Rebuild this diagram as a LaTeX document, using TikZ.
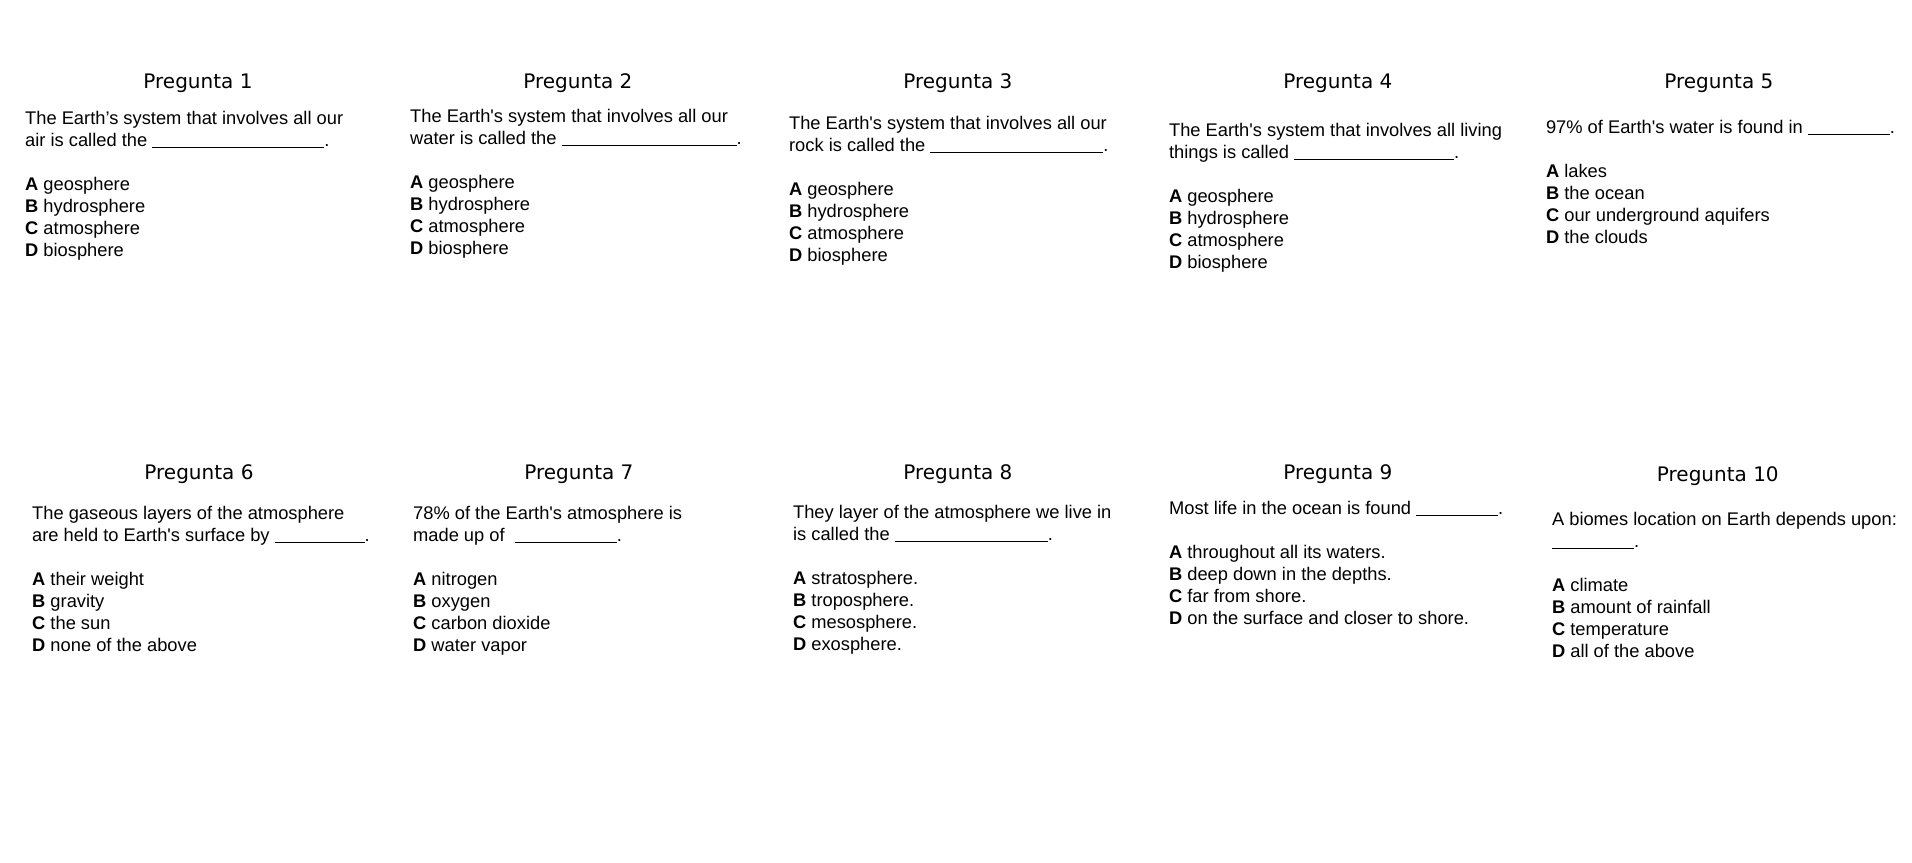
\documentclass[tikz,border=0pt]{standalone}
\usepackage{fontspec}
\setmainfont{Liberation Sans}
\newfontfamily\titlefont{DejaVu Sans}
\usepackage{tikz}
\newcommand{\blank}[1]{\rule[-1.5pt]{#1pt}{1.3pt}}
\newcommand{\apos}{\textquotesingle}
\tikzstyle{qtitle} = [anchor=base, inner sep=0pt, font=\titlefont\fontsize{20}{24}\selectfont]
\tikzstyle{qbox} = [anchor=base west, inner sep=0pt, font=\fontsize{18.3}{22}\selectfont]

\begin{document}
\begin{tikzpicture}[x=1pt, y=-1pt]
\path[fill=white] (0,0) rectangle (1912,863);

% first row
\node [qtitle] (t1) at (198,89) {Pregunta 1};
\node [qtitle] (t2) at (578,89) {Pregunta 2};
\node [qtitle] (t3) at (958,89) {Pregunta 3};
\node [qtitle] (t4) at (1338,89) {Pregunta 4};
\node [qtitle] (t5) at (1719,89) {Pregunta 5};

\node [qbox] (q1) at (25,124.5){%
    \begin{minipage}[t]{360pt}
        The Earth’s system that involves all our\\
        air is called the \blank{172}.\\[22pt]
        \textbf{A} geosphere\\
        \textbf{B} hydrosphere\\
        \textbf{C} atmosphere\\
        \textbf{D} biosphere
    \end{minipage}
};
\node [qbox] (q2) at (410,122.5){%
    \begin{minipage}[t]{360pt}
        The Earth\apos s system that involves all our\\
        water is called the \blank{175}.\\[22pt]
        \textbf{A} geosphere\\
        \textbf{B} hydrosphere\\
        \textbf{C} atmosphere\\
        \textbf{D} biosphere
    \end{minipage}
};
\node [qbox] (q3) at (789,129.5){%
    \begin{minipage}[t]{360pt}
        The Earth\apos s system that involves all our\\
        rock is called the \blank{173}.\\[22pt]
        \textbf{A} geosphere\\
        \textbf{B} hydrosphere\\
        \textbf{C} atmosphere\\
        \textbf{D} biosphere
    \end{minipage}
};
\node [qbox] (q4) at (1169,136.5){%
    \begin{minipage}[t]{360pt}
        The Earth\apos s system that involves all living\\
        things is called \blank{160}.\\[22pt]
        \textbf{A} geosphere\\
        \textbf{B} hydrosphere\\
        \textbf{C} atmosphere\\
        \textbf{D} biosphere
    \end{minipage}
};
\node [qbox] (q5) at (1546,133.5){%
    \begin{minipage}[t]{360pt}
        97\% of Earth\apos s water is found in \blank{82}.\\[22pt]
        \textbf{A} lakes\\
        \textbf{B} the ocean\\
        \textbf{C} our underground aquifers\\
        \textbf{D} the clouds
    \end{minipage}
};

% second row
\node [qtitle] (t6) at (199,480) {Pregunta 6};
\node [qtitle] (t7) at (579,480) {Pregunta 7};
\node [qtitle] (t8) at (958,480) {Pregunta 8};
\node [qtitle] (t9) at (1338,480) {Pregunta 9};
\node [qtitle] (t10) at (1718,482) {Pregunta 10};

\node [qbox] (q6) at (32,519.5){%
    \begin{minipage}[t]{360pt}
        The gaseous layers of the atmosphere\\
        are held to Earth\apos s surface by \blank{90}.\\[22pt]
        \textbf{A} their weight\\
        \textbf{B} gravity\\
        \textbf{C} the sun\\
        \textbf{D} none of the above
    \end{minipage}
};
\node [qbox] (q7) at (413,519.5){%
    \begin{minipage}[t]{360pt}
        78\% of the Earth\apos s atmosphere is\\
        made up of \ \blank{102}.\\[22pt]
        \textbf{A} nitrogen\\
        \textbf{B} oxygen\\
        \textbf{C} carbon dioxide\\
        \textbf{D} water vapor
    \end{minipage}
};
\node [qbox] (q8) at (793,518.5){%
    \begin{minipage}[t]{360pt}
        They layer of the atmosphere we live in\\
        is called the \blank{153}.\\[22pt]
        \textbf{A} stratosphere.\\
        \textbf{B} troposphere.\\
        \textbf{C} mesosphere.\\
        \textbf{D} exosphere.
    \end{minipage}
};
\node [qbox] (q9) at (1169,514.5){%
    \begin{minipage}[t]{360pt}
        Most life in the ocean is found \blank{82}.\\[22pt]
        \textbf{A} throughout all its waters.\\
        \textbf{B} deep down in the depths.\\
        \textbf{C} far from shore.\\
        \textbf{D} on the surface and closer to shore.
    \end{minipage}
};
\node [qbox] (q10) at (1552,525.5){%
    \begin{minipage}[t]{360pt}
        A biomes location on Earth depends upon:\\
        \blank{82}.\\[22pt]
        \textbf{A} climate\\
        \textbf{B} amount of rainfall\\
        \textbf{C} temperature\\
        \textbf{D} all of the above
    \end{minipage}
};
\end{tikzpicture}
\end{document}
